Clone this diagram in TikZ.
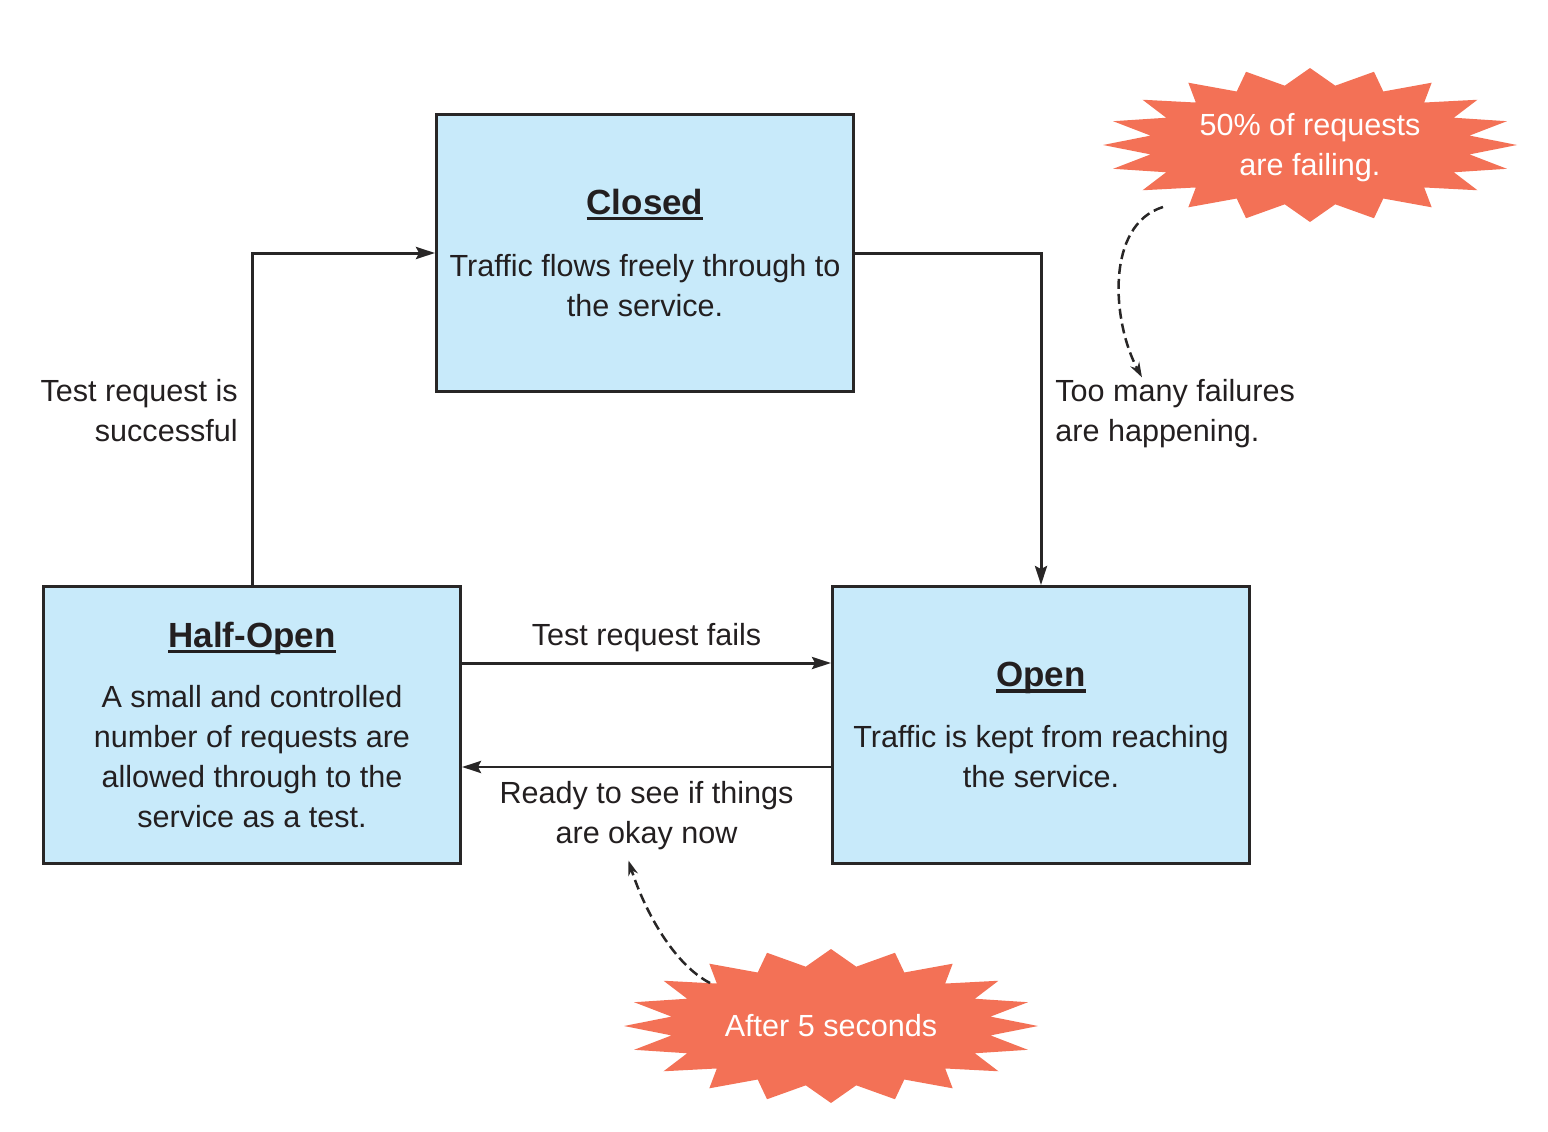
\documentclass[tikz,border=0pt]{standalone}
\usepackage{fontspec}
\setmainfont{Liberation Sans}
\usepackage{xcolor}
\usetikzlibrary{arrows.meta, positioning}
\definecolor{stateblue}{RGB}{200, 234, 250}
\definecolor{stateline}{RGB}{40, 38, 38}
\definecolor{inkdark}{RGB}{35, 31, 32}
\definecolor{burstred}{RGB}{243, 113, 86}
\newsavebox{\titlebox}
\newcommand{\statetitle}[1]{\sbox{\titlebox}{\fontsize{19.9pt}{24pt}\selectfont\bfseries #1}%
  \rlap{\rule[-0.12cm]{\wd\titlebox}{0.07cm}}\usebox{\titlebox}}
\newcommand{\burst}[1]{%
  \fill[burstred, shift={(#1)}] (207,0)
    \foreach \k in {1,...,39}
      { -- ({207*(0.89+0.11*cos(180*\k))*cos(9*\k)}, {77*(0.89+0.11*cos(180*\k))*sin(9*\k)}) } -- cycle;}

\begin{document}
\begin{tikzpicture}[x=0.02cm, y=-0.02cm,
  font=\fontsize{17.4pt}{22.8pt}\selectfont, text=inkdark,
  state/.style={draw=stateline, fill=stateblue, line width=0.06cm,
    minimum width=8.34cm, minimum height=5.54cm, align=center, inner sep=0},
  flow/.style={draw=stateline, line width=0.06cm, -{Stealth[length=0.38cm, width=0.24cm, inset=0.06cm]}},
  hint/.style={draw=stateline, line width=0.05cm, dash pattern=on 0.2cm off 0.1cm,
    -{Stealth[length=0.3cm, width=0.2cm]}},
  burstlabel/.style={text=white, align=center, inner sep=0},
  note/.style={inner sep=0}]
  \useasboundingbox (0,0) rectangle (1548,1132);
  % States
  \node[state] (closed) at (645,253) {\statetitle{Closed}\\[0.44cm]
    Traffic flows freely through to\\ the service.};
  \node[state] (half) at (252,725) {\statetitle{Half-Open}\\[0.4cm]
    A small and controlled\\ number of requests are\\ allowed through to the\\ service as a test.};
  \node[state] (open) at (1041,725) {\statetitle{Open}\\[0.42cm]
    Traffic is kept from reaching\\ the service.};
  % Transitions
  \draw[flow] (closed.east) -| (open.north);
  \draw[flow] (half.north) |- (closed.west);
  \draw[flow] ([yshift=1.24cm]half.east) -- node[above=0.19cm, note] {Test request fails}
    ([yshift=1.24cm]open.west);
  \draw[flow] ([yshift=-0.84cm]open.west) -- node[below=0.26cm, note, align=center] (ready)
    {Ready to see if things\\ are okay now} ([yshift=-0.84cm]half.east);
  \node[note, anchor=east, align=right] (success) at (238,411) {Test request is\\ successful};
  \node[note, anchor=west, align=left] (failures) at (1055,414) {Too many failures\\ are happening.};
  % Triggers
  \coordinate (failc) at (1310,145);
  \coordinate (waitc) at (831,1026);
  \burst{failc}
  \burst{waitc}
  \node[burstlabel] (fail) at ([yshift=-0.06cm]failc) {50\% of requests\\ are failing.};
  \node[burstlabel] (wait) at (waitc) {After 5 seconds};
  \draw[hint] ([shift={(-147,62)}]failc) .. controls +(-58,18) and +(-30,-55) ..
    ([xshift=1.74cm, yshift=0.04cm]failures.north west);
  \draw[hint] ([shift={(-121,-43)}]waitc) .. controls +(-35,-18) and +(17,53) ..
    ([xshift=-0.36cm, yshift=-0.18cm]ready.south);
\end{tikzpicture}
\end{document}
